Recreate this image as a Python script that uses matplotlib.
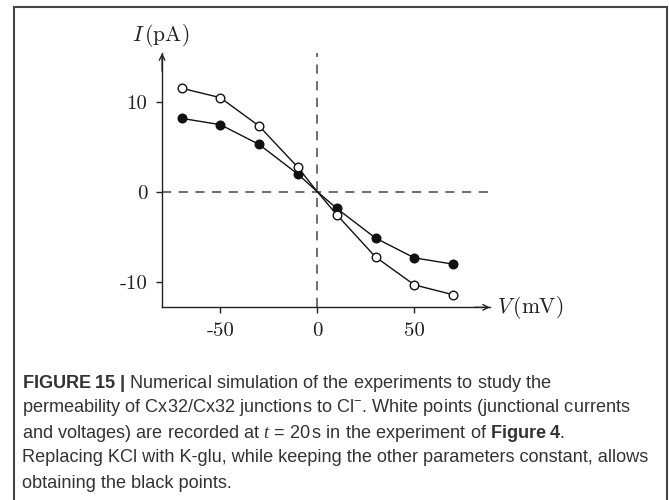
import matplotlib
matplotlib.use('Agg')
import matplotlib.pyplot as plt
from matplotlib.patches import Rectangle

# junction voltage (mV) and simulated junctional current (pA)
V = [-70, -50, -30, -10, 0, 10, 30, 50, 70]
I_white = [11.5, 10.45, 7.3, 2.7, 0, -2.55, -7.25, -10.35, -11.45]   # KCl
I_black = [8.15, 7.45, 5.25, 1.95, 0, -1.85, -5.15, -7.35, -8.05]    # K-glu
xticks = [-50, 0, 50]
xtick_labels = ['-50', '0', '50']
yticks = [-10, 0, 10]
ytick_labels = ['-10', '0', '10']

caption = [
    r'$\mathbf{FIGURE\ 15\ |}$ Numerical simulation of the experiments to study the',
    r'permeability of Cx32/Cx32 junctions to Cl$^{-}$. White points (junctional currents',
    r'and voltages) are recorded at $t$ = 20$\,$s in the experiment of $\mathbf{Figure\ 4}$.',
    'Replacing KCl with K-glu, while keeping the other parameters constant, allows',
    'obtaining the black points.',
]

plt.rcParams['mathtext.fontset'] = 'custom'
plt.rcParams['mathtext.rm'] = 'Liberation Sans'
plt.rcParams['mathtext.it'] = 'Liberation Serif:italic'
plt.rcParams['mathtext.bf'] = 'Liberation Sans:bold'

W, H = 669, 500
fig = plt.figure(figsize=(W / 100, H / 100), dpi=100)

# axes placed so that V=0 sits at x=317 px and I=0 at y=192 px
x0, x1 = -100, 100
y0, y1 = -15, 18
ax = fig.add_axes([123.3 / W, (H - 326.7) / H, 388 / W, 297 / H])
ax.set_xlim(x0, x1)
ax.set_ylim(y0, y1)

xa, ya = -80, -12.85      # where the two axes cross
xend, yend = 89, 15.4

for s in ['top', 'right']:
    ax.spines[s].set_visible(False)
ax.spines['left'].set_position(('data', xa))
ax.spines['bottom'].set_position(('data', ya))
ax.spines['left'].set_bounds(ya, yend)
ax.spines['bottom'].set_bounds(xa, xend)
for s in ['left', 'bottom']:
    ax.spines[s].set_linewidth(1.0)
    ax.spines[s].set_color('#222222')

arrow = dict(arrowstyle='->', lw=1.0, color='#222222', shrinkA=0, shrinkB=0,
             mutation_scale=10)
ax.annotate('', xy=(xend, ya), xytext=(xend - 8, ya), arrowprops=arrow)
ax.annotate('', xy=(xa, yend), xytext=(xa, yend - 2), arrowprops=arrow)

ax.set_xticks(xticks)
ax.set_xticklabels(xtick_labels, fontfamily='cmr10', fontsize=15)
ax.set_yticks(yticks)
ax.set_yticklabels(ytick_labels, fontfamily='cmr10', fontsize=15)
ax.tick_params(direction='out', length=4.5, width=1.0, color='#222222',
               pad=6, labelcolor='#222222')

# dashed zero lines
dash = (0, (5.5, 4.5))
ax.plot([xa, xend], [0, 0], ls=dash, color='#555555', lw=1.2, zorder=1)
ax.plot([0, 0], [ya, yend], ls=dash, color='#555555', lw=1.2, zorder=1)

marks = [i for i, v in enumerate(V) if v != 0]
ax.plot(V, I_black, color='#111111', lw=1.0, marker='o', ms=6.2,
        mfc='#111111', mec='#111111', mew=1.0, markevery=marks, zorder=3)
ax.plot(V, I_white, color='#111111', lw=1.0, marker='o', ms=6.2,
        mfc='white', mec='#111111', mew=1.0, markevery=marks, zorder=4)

ax.text(xa - 0.5, 17.4, r'$I\,(\mathrm{pA})$', math_fontfamily='cm', fontsize=15.5,
        ha='center', va='center', color='#222222')
ax.text(92.6, ya, r'$V\,(\mathrm{mV})$', math_fontfamily='cm', fontsize=15.5,
        ha='left', va='center', color='#222222')

# frame around figure and caption
fig.patches.append(Rectangle((13.5 / W, -0.05), (667 - 13.5) / W, 1.05 - 7.3 / H,
                             transform=fig.transFigure, fill=False,
                             ec='#444444', lw=1.5))

for i, line in enumerate(caption):
    fig.text(22.5 / W, 1 - (387.5 + 25 * i) / H, line, fontsize=13.1,
             family='Liberation Sans', color='#333333', va='baseline', ha='left')

fig.savefig('out.png', dpi=100)
